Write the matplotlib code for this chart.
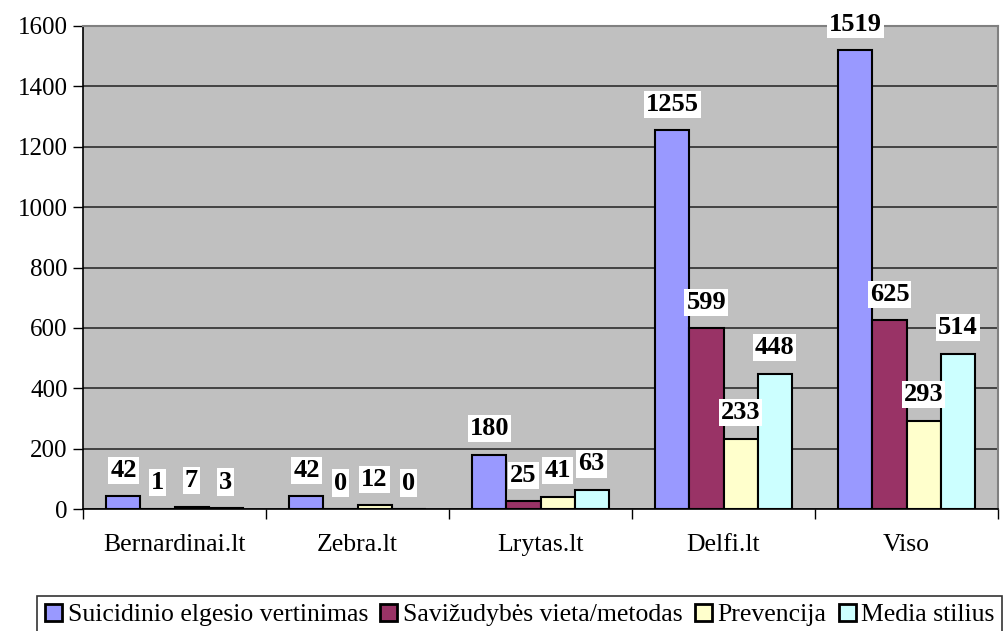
import numpy as np
import matplotlib
matplotlib.use('Agg')
import matplotlib.pyplot as plt

plt.rcParams['font.family'] = ['Liberation Serif', 'DejaVu Serif']

categories = ['Bernardinai.lt', 'Zebra.lt', 'Lrytas.lt', 'Delfi.lt', 'Viso']
series_names = ['Suicidinio elgesio vertinimas', 'Savižudybės vieta/metodas',
                'Prevencija', 'Media stilius']
suicid = [42, 42, 180, 1255, 1519]
vieta = [1, 0, 25, 599, 625]
prevencija = [7, 12, 41, 233, 293]
media = [3, 0, 63, 448, 514]
colors = ['#9999FF', '#993366', '#FFFFCC', '#CCFFFF']

series = [suicid, vieta, prevencija, media]

fig = plt.figure(figsize=(10.06, 6.31), dpi=100)
ax = fig.add_axes([83 / 1006, (631 - 509) / 631, 915 / 1006, 483 / 631])
ax.set_facecolor('#C0C0C0')

x = np.arange(len(categories))
w = 0.186
for i, vals in enumerate(series):
    pos = x + (i - 1.5) * w
    ax.bar(pos, vals, width=w, color=colors[i], edgecolor='black',
           linewidth=1.5, label=series_names[i], zorder=3)
    for px, v in zip(pos, vals):
        ax.annotate(str(v), (px, v), xytext=(0, 26), textcoords='offset pixels',
                    ha='center', va='center', fontsize=19, fontweight='bold',
                    zorder=5, annotation_clip=False,
                    bbox=dict(boxstyle='square,pad=0.08', fc='white', ec='none'))

ax.set_xlim(-0.5, 4.5)
ax.set_ylim(0, 1600)
ax.set_yticks(range(0, 1601, 200))
ax.yaxis.grid(True, color='#202020', linewidth=1.1, zorder=1)
ax.set_axisbelow(True)

ax.set_xticks(x)
ax.set_xticklabels(categories, fontsize=18.5)
ax.set_xticks(np.arange(-0.5, 5, 1), minor=True)
ax.tick_params(axis='x', which='major', length=0, pad=18)
ax.tick_params(axis='x', which='minor', length=7, width=1, direction='out')
ax.tick_params(axis='y', labelsize=18, length=7, width=1, direction='out', pad=4)

for s in ['top', 'right']:
    ax.spines[s].set_color('#808080')
    ax.spines[s].set_linewidth(1.5)
for s in ['left', 'bottom']:
    ax.spines[s].set_color('black')
    ax.spines[s].set_linewidth(1.2)

leg = fig.legend(loc='upper left', bbox_to_anchor=(37 / 1006, 1 - 596 / 631),
                 ncol=4, fontsize=18.5, frameon=True, fancybox=False,
                 edgecolor='black', handlelength=0.66, handleheight=0.66,
                 handletextpad=0.23, columnspacing=0.47, borderpad=0.3,
                 borderaxespad=0)
leg.get_frame().set_linewidth(1.2)
for h in leg.legend_handles:
    h.set_linewidth(2)

fig.savefig('out.png', dpi=100)
